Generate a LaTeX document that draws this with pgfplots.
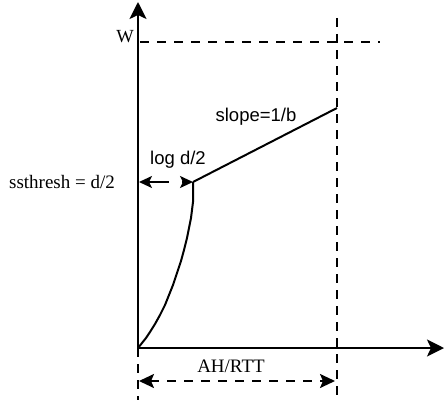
\documentclass[border=0pt]{standalone}
\usepackage{pgfplots}
\pgfplotsset{compat=1.18}
\usepackage{fontspec}
\setmainfont{Liberation Serif}
\setsansfont{Liberation Sans}
\usetikzlibrary{arrows.meta}

\begin{document}
\begin{tikzpicture}
\begin{axis}[
  x=1pt, y=1pt,
  xmin=0, xmax=306, ymin=0, ymax=346,
  axis lines=left,
  enlargelimits=false,
  ticks=none,
  clip=false,
  axis line style={line width=2pt, -{Stealth[length=17pt,width=17pt,inset=4pt]}},
]
% window growth: slow start, then linear growth
\addplot[line width=2pt, line join=round] coordinates {
  (0,0) (4,5) (8,10) (12,16) (17,24) (22,33) (27,43) (31,53) (35,63)
  (39,75) (43,87) (46,98) (49,110) (51,120) (53,130) (54,138) (55,146) (55,166)
};
\addplot[line width=2pt] coordinates {(55,166) (199,240)};

% maximum window and advertised-window limit
\addplot[line width=2pt, dash pattern=on 9pt off 8pt] coordinates {(2,306) (242,306)};
\addplot[line width=2pt, dash pattern=on 9pt off 7pt] coordinates {(199,330) (199,-52)};
\addplot[line width=2pt, dash pattern=on 9pt off 7pt] coordinates {(0,0) (0,-52)};

% interval arrows
\addplot[line width=2pt, dash pattern=on 21pt off 13pt,
  {Stealth[length=13pt,width=12pt,inset=3pt]}-{Stealth[length=13pt,width=12pt,inset=3pt]}]
  coordinates {(1,166) (55,166)};
\addplot[line width=2pt, dash pattern=on 9pt off 8pt,
  {Stealth[length=15pt,width=14pt,inset=3pt]}-{Stealth[length=15pt,width=14pt,inset=3pt]}]
  coordinates {(1,-33) (197,-33)};

\node[font=\fontsize{18.5}{20}\selectfont] at (axis cs:-13,311) {W};
\node[font=\sffamily\fontsize{18.5}{20}\selectfont] at (axis cs:118,231) {slope=1/b};
\node[font=\sffamily\fontsize{18.5}{20}\selectfont] at (axis cs:40,188) {log d/2};
\node[font=\fontsize{19}{20}\selectfont] at (axis cs:-76,166) {ssthresh = d/2};
\node[font=\fontsize{19}{20}\selectfont] at (axis cs:93,-18) {AH/RTT};

\path (axis cs:-138,-57) rectangle (axis cs:308,348);
\end{axis}
\end{tikzpicture}
\end{document}
